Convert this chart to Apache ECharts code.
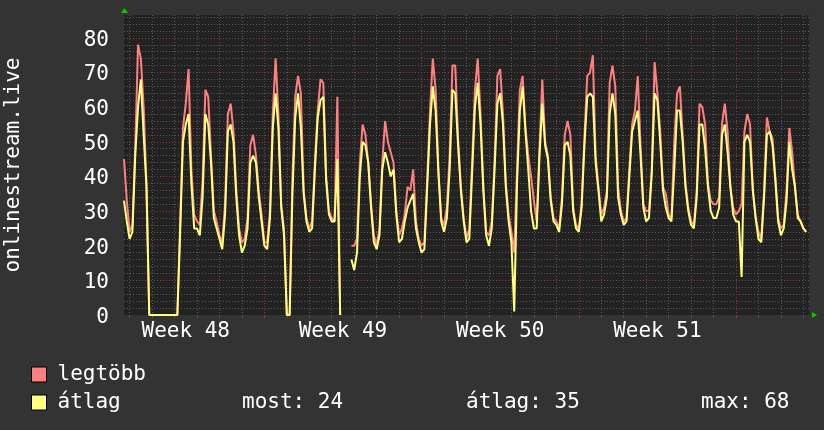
<!DOCTYPE html>
<html><head><meta charset="utf-8">
<script src="https://cdn.jsdelivr.net/npm/echarts@6/dist/echarts.min.js"></script>
<style>html,body{margin:0;padding:0;background:#333333;} #c{width:824px;height:430px;}</style>
</head><body><div id="c"></div>
<script>
// time axis: samples every 3 hours, first sample 18:00 on Monday of week 48
const START_HOUR = 18;
const STEP_HOURS = 3;
const weekLabels = ['Week 48', 'Week 49', 'Week 50', 'Week 51'];
const weekLabelHours = [84, 252, 420, 588];
const legendNames = ['legtöbb', 'átlag'];
const statLabels = ['most: 24', 'átlag: 35', 'max: 68'];
const axisTitle = 'onlinestream.live';

// legtöbb (max)
const maxValues = [
  45, 33,
  24, 26, 48, 78, 74, 60, 38, 0,
  0, 0, 0, 0, 0, 0, 0, 0,
  0, 0, 26, 54, 61, 71, 42, 29,
  27, 26, 39, 65, 63, 46, 30, 27,
  23, 21, 32, 58, 61, 53, 36, 25,
  21, 22, 28, 49, 52, 46, 36, 29,
  21, 21, 30, 58, 74, 58, 32, 25,
  0, 0, 40, 63, 69, 64, 36, 28,
  25, 27, 44, 59, 68, 67, 40, 30,
  28, 27, 63, 0, null, null, null, 20,
  20, 22, 44, 55, 52, 44, 32, 23,
  20, 25, 44, 56, 50, 47, 44, 30,
  23, 25, 29, 37, 36, 42, 27, 22,
  20, 21, 39, 59, 74, 65, 42, 28,
  26, 31, 46, 72, 72, 51, 37, 28,
  22, 25, 44, 65, 74, 58, 37, 24,
  23, 27, 44, 69, 71, 58, 38, 29,
  24, 18, 42, 65, 69, 54, 46, 40,
  33, 27, 48, 68, 50, 46, 34, 28,
  27, 25, 34, 52, 56, 52, 31, 26,
  25, 32, 51, 69, 70, 75, 46, 37,
  29, 31, 36, 67, 72, 66, 37, 30,
  27, 28, 42, 55, 59, 69, 49, 32,
  30, 30, 42, 73, 64, 53, 37, 35,
  29, 28, 50, 64, 66, 52, 38, 31,
  27, 26, 36, 61, 60, 55, 38, 33,
  32, 32, 34, 55, 61, 53, 37, 31,
  29, 30, 32, 53, 58, 55, 36, 28,
  24, 22, 36, 57, 53, 51, 40, 28,
  25, 26, 36, 54, 47, 37, 29, 27,
  25, 24, null
];

// átlag (average)
const avgValues = [
  33, 27,
  22, 24, 46, 60, 68, 52, 37, 0,
  0, 0, 0, 0, 0, 0, 0, 0,
  0, 0, 24, 50, 55, 58, 38, 25,
  25, 23, 34, 58, 55, 44, 28, 25,
  22, 19, 29, 53, 55, 50, 34, 23,
  18, 20, 25, 44, 46, 44, 34, 27,
  20, 19, 28, 54, 64, 54, 31, 23,
  0, 0, 35, 57, 64, 54, 35, 27,
  24, 25, 42, 57, 62, 63, 39, 29,
  27, 27, 45, 0, null, null, null, 16,
  13, 18, 40, 50, 49, 44, 31, 21,
  19, 23, 42, 47, 44, 40, 42, 29,
  21, 22, 27, 31, 33, 35, 25, 21,
  18, 19, 37, 55, 66, 59, 41, 27,
  24, 28, 42, 65, 64, 49, 36, 27,
  21, 22, 41, 60, 67, 55, 36, 23,
  20, 25, 42, 61, 64, 55, 37, 27,
  21, 1, 38, 59, 66, 53, 42, 30,
  25, 25, 46, 61, 49, 45, 33, 27,
  26, 24, 32, 49, 50, 46, 30, 25,
  24, 31, 49, 63, 64, 63, 44, 36,
  27, 29, 34, 58, 64, 58, 34, 29,
  26, 27, 40, 53, 56, 59, 46, 31,
  27, 28, 41, 64, 62, 50, 36, 31,
  28, 27, 42, 59, 59, 50, 37, 30,
  26, 25, 34, 55, 55, 48, 37, 30,
  28, 28, 31, 52, 55, 47, 37, 29,
  27, 27, 11, 50, 52, 50, 36, 28,
  22, 21, 34, 52, 53, 49, 39, 27,
  23, 25, 33, 50, 42, 37, 28, 27,
  25, 24, null
];

const hours = maxValues.map((_, i) => String(START_HOUR + i * STEP_HOURS));

const FONT = '"DejaVu Sans Mono", monospace';
const RED = '#ff8080';
const YELLOW = '#ffff80';

const chart = echarts.init(document.getElementById('c'), null, {renderer: 'canvas'});
chart.setOption({
  backgroundColor: '#333333',
  animation: false,
  grid: {left: 124, right: 15, top: 15, bottom: 115, show: true, backgroundColor: '#222222', borderWidth: 0,
    containLabel: false, outerBoundsMode: 'none'},
  legend: {
    data: legendNames, orient: 'vertical', left: 31, top: 364, padding: 0,
    itemWidth: 15, itemHeight: 15, itemGap: 7, icon: 'rect', selectedMode: false,
    itemStyle: {borderColor: '#000', borderWidth: 1},
    textStyle: {color: '#ffffff', fontFamily: FONT, fontSize: 21, padding: [2, 0, 0, 6]}
  },
  xAxis: [
    {
      type: 'category', data: hours, boundaryGap: false,
      axisLine: {show: false},
      axisTick: {show: true, length: 3, interval: (i, v) => Number(v) % 24 === 0, lineStyle: {color: '#555555'}},
      axisLabel: {
        color: '#ffffff', fontFamily: FONT, fontSize: 21, margin: 6,
        interval: (i, v) => weekLabelHours.includes(Number(v)),
        formatter: v => weekLabels[weekLabelHours.indexOf(Number(v))] || ''
      },
      splitLine: {show: true, interval: (i, v) => Number(v) % 24 === 0 && Number(v) % 168 !== 0,
        lineStyle: {color: '#5a5a5a', type: [1, 2], width: 1}}
    },
    {
      type: 'category', data: hours, boundaryGap: false, position: 'bottom', z: 1,
      axisLine: {show: false}, axisLabel: {show: false},
      axisTick: {show: true, length: 3, interval: (i, v) => Number(v) % 168 === 0, lineStyle: {color: '#8a3a3a'}},
      splitLine: {show: true, interval: (i, v) => Number(v) % 168 === 0,
        lineStyle: {color: '#8a3a3a', type: [1, 2], width: 1}}
    }
  ],
  yAxis: [
    {
      type: 'value', min: 0, max: 86.6, interval: 2, position: 'left',
      axisLine: {show: false}, axisTick: {show: false}, axisLabel: {show: false},
      splitLine: {show: true, showMinLine: false, showMaxLine: false,
        lineStyle: {color: '#5a5a5a', type: [1, 2], width: 1}}
    },
    {
      type: 'value', min: 0, max: 86.6, interval: 10, position: 'left', z: 1,
      axisLine: {show: false}, axisTick: {show: false},
      axisLabel: {margin: 15, showMaxLabel: false,
        formatter: '{v|{value}}',
        rich: {v: {color: '#ffffff', fontFamily: FONT, fontSize: 21, padding: [5, 0, 0, 0]}}},
      splitLine: {show: true, showMinLine: false, showMaxLine: false,
        lineStyle: {color: '#8a3a3a', type: [1, 2], width: 1}},
      name: axisTitle, nameLocation: 'middle', nameGap: 100,
      nameTextStyle: {color: '#ffffff', fontFamily: FONT, fontSize: 21}
    }
  ],
  series: [
    {name: legendNames[0], type: 'line', xAxisIndex: 0, yAxisIndex: 1, data: maxValues,
      showSymbol: false, symbol: 'none', connectNulls: false, z: 3,
      lineStyle: {color: RED, width: 2}, itemStyle: {color: RED}},
    {name: legendNames[1], type: 'line', xAxisIndex: 0, yAxisIndex: 1, data: avgValues,
      showSymbol: false, symbol: 'none', connectNulls: false, z: 4,
      lineStyle: {color: YELLOW, width: 2}, itemStyle: {color: YELLOW}}
  ],
  graphic: [
    {type: 'polygon', shape: {points: [[121, 13], [128, 13], [124.5, 8]]}, style: {fill: '#00cc00'}},
    {type: 'polygon', shape: {points: [[812, 312], [812, 318], [817, 315]]}, style: {fill: '#00cc00'}},
    {type: 'text', x: 242, y: 403, style: {text: statLabels[0], fill: '#ffffff', font: '21px ' + FONT, verticalAlign: 'middle'}},
    {type: 'text', x: 466, y: 403, style: {text: statLabels[1], fill: '#ffffff', font: '21px ' + FONT, verticalAlign: 'middle'}},
    {type: 'text', x: 701, y: 403, style: {text: statLabels[2], fill: '#ffffff', font: '21px ' + FONT, verticalAlign: 'middle'}}
  ]
});
</script>
</body></html>
